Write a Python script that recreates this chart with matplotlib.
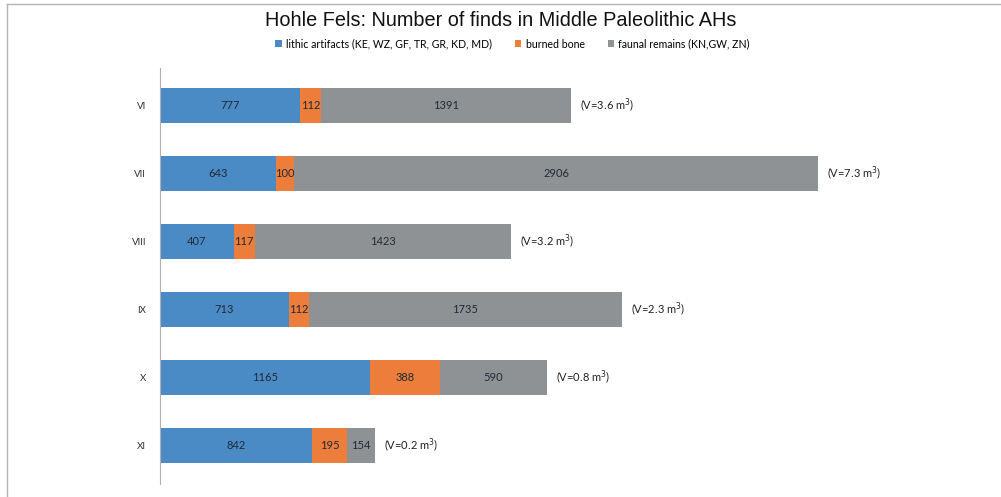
import matplotlib.pyplot as plt
from matplotlib.patches import Patch

layers = ['VI', 'VII', 'VIII', 'IX', 'X', 'XI']
lithic = [777, 643, 407, 713, 1165, 842]
burned = [112, 100, 117, 112, 388, 195]
faunal = [1391, 2906, 1423, 1735, 590, 154]
volumes = ['3.6', '7.3', '3.2', '2.3', '0.8', '0.2']

names = ['lithic artifacts (KE, WZ, GF, TR, GR, KD, MD)', 'burned bone',
         'faunal remains (KN,GW, ZN)']
colors = ['#4a8bc6', '#ec7d3a', '#8f9294']

plt.rcParams['font.family'] = ['Lato', 'DejaVu Sans']

fig = plt.figure(figsize=(10.01, 4.97), dpi=100)
ax = fig.add_axes([0.160, 1 - 484 / 497, 0.829, (484 - 68) / 497])

y = list(range(len(layers)))
left = [0] * len(layers)
for vals, c in zip([lithic, burned, faunal], colors):
    ax.barh(y, vals, left=left, height=0.515, color=c, edgecolor='none')
    for yi, l, v in zip(y, left, vals):
        ax.text(l + v / 2, yi, str(v), ha='center', va='center', fontsize=8,
                color='#1f2a36')
    left = [a + b for a, b in zip(left, vals)]

for yi, tot, vol in zip(y, left, volumes):
    ax.text(tot + 50, yi, '(V=%s m$^3$)' % vol, ha='left', va='center',
            fontsize=8, color='#222222')

ax.set_xlim(0, 4600)
ax.set_ylim(5.57, -0.55)
ax.set_yticks(y)
ax.set_yticklabels(layers, fontsize=7, color='#333333')
ax.tick_params(axis='y', length=0, pad=10)
ax.set_xticks([])
for s in ['top', 'right', 'bottom']:
    ax.spines[s].set_visible(False)
ax.spines['left'].set_color('#b0b0b0')

fig.text(0.5, 1 - 20 / 497, 'Hohle Fels: Number of finds in Middle Paleolithic AHs',
         ha='center', va='center', fontsize=14.3, family=['Liberation Sans'],
         color='#111111')

handles = [Patch(facecolor=c, edgecolor='none') for c in colors]
fig.legend(handles, names, loc='center', bbox_to_anchor=(0.512, 1 - 44 / 497),
           ncol=3, frameon=False, fontsize=7.6, handlelength=0.6, handleheight=0.6,
           handletextpad=0.4, columnspacing=2.2)

# figure frame lines (top and left)
fig.add_artist(plt.Line2D([7 / 1001, 1], [1 - 4 / 497, 1 - 4 / 497],
                          transform=fig.transFigure, color='#b5b5b5', lw=1))
fig.add_artist(plt.Line2D([7 / 1001, 7 / 1001], [0, 1 - 4 / 497],
                          transform=fig.transFigure, color='#b5b5b5', lw=1))

fig.savefig('out.png', dpi=100)
